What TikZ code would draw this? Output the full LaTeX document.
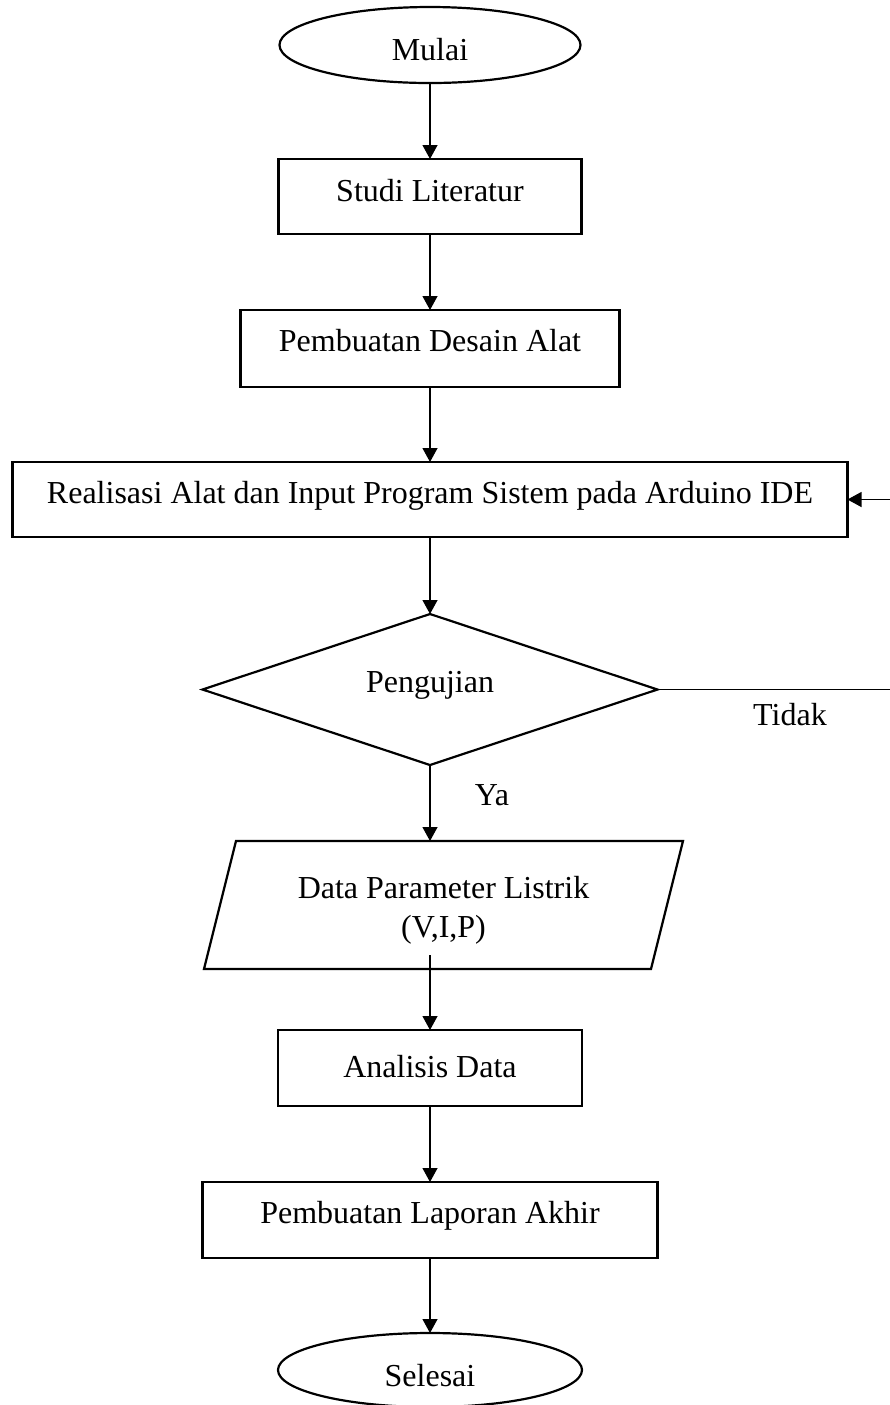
\documentclass[tikz,border=0pt]{standalone}
\usepackage{fontspec}
\setmainfont{Liberation Serif}
\usetikzlibrary{arrows.meta,shapes.geometric}
\newcommand\figfont{\fontsize{16pt}{19.5pt}\selectfont}
\newcommand\lowered[2]{\raisebox{-#1}[0pt][0pt]{#2}}
\begin{document}
\begin{tikzpicture}[x=0.5pt,y=-0.5pt,
  shapeline/.style={draw=black, line width=1.1pt},
  conn/.style={draw=black, line width=0.6pt, -{Triangle[length=7pt,width=7.5pt]}},
  procbox/.style={shapeline, rectangle, inner sep=0pt, outer sep=0pt, font=\figfont},
  terminal/.style={shapeline, ellipse, inner sep=0pt, outer sep=0pt, font=\figfont},
  decision/.style={shapeline, diamond, inner sep=0pt, outer sep=0pt, font=\figfont},
  lbl/.style={font=\figfont, inner sep=0pt, anchor=base},
]
\useasboundingbox (0,0) rectangle (890,1405);

\node[terminal, minimum width=150.5pt, minimum height=38pt] (mulai) at (430,45) {\lowered{7.5pt}{Mulai}};
\node[procbox, minimum width=151.5pt, minimum height=37.5pt] (studi) at (430,196.5) {\lowered{2.5pt}{Studi Literatur}};
\node[procbox, minimum width=189.5pt, minimum height=38.5pt] (desain) at (430,348.5) {\lowered{1.5pt}{Pembuatan Desain Alat}};
\node[procbox, minimum width=417.5pt, minimum height=37.5pt] (real) at (430,499.5) {\lowered{2pt}{Realisasi Alat dan Input Program Sistem pada Arduino IDE}};
\node[decision, minimum width=227.5pt, minimum height=75.5pt] (uji) at (430,689.5) {\lowered{1.25pt}{Pengujian}};

% parallelogram (input/output)
\coordinate (pTL) at (236,841);
\coordinate (pTR) at (683,841);
\coordinate (pBR) at (651,969);
\coordinate (pBL) at (204,969);
\draw[shapeline] (pTL) -- (pTR) -- (pBR) -- (pBL) -- cycle;
\node[font=\figfont, align=center, inner sep=0pt] (data) at (443.5,910) {Data Parameter Listrik\\(V,I,P)};
\coordinate (pTop) at (430,841);
\coordinate (pIn) at (430,955);

\node[procbox, minimum width=152pt, minimum height=38pt] (analisis) at (430,1068) {\lowered{4.75pt}{Analisis Data}};
\node[procbox, minimum width=227.5pt, minimum height=38pt] (laporan) at (430,1220) {\lowered{1.5pt}{Pembuatan Laporan Akhir}};
\node[terminal, minimum width=152pt, minimum height=37pt] (selesai) at (430,1370) {\lowered{8pt}{Selesai}};

% labels
\node[lbl] (tidak) at (790,725) {Tidak};
\node[lbl] (ya) at (492,805) {Ya};

% connectors
\draw[conn] (mulai.south) -- (studi.north);
\draw[conn] (studi.south) -- (desain.north);
\draw[conn] (desain.south) -- (real.north);
\draw[conn] (real.south) -- (uji.north);
\draw[conn] (uji.south) -- (pTop);
\draw[conn] (pIn) -- (analisis.north);
\draw[conn] (analisis.south) -- (laporan.north);
\draw[conn] (laporan.south) -- (selesai.north);

% feedback loop (vertical part lies just beyond the right edge)
\coordinate (fbA) at (893,689.5);
\coordinate (fbB) at (893,499.5);
\draw[conn] (uji.east) -- (fbA) -- (fbB) -- (real.east);
\end{tikzpicture}
\end{document}
